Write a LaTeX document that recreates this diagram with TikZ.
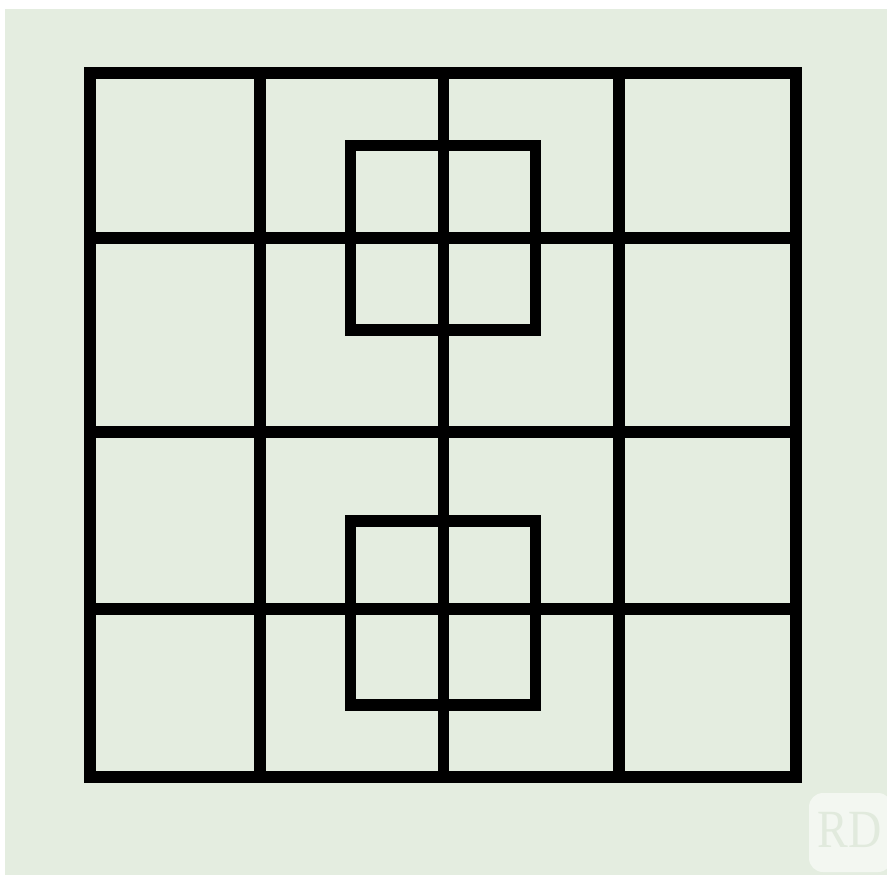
\documentclass[tikz,border=0pt]{standalone}
\usepackage{fontspec}
\setmainfont{Liberation Serif}
\definecolor{paper}{HTML}{E4EDE0}
\definecolor{badge}{HTML}{F3F7F1}
\definecolor{badgetext}{HTML}{E1EADD}
\tikzset{
  gridline/.style={line width=11.5pt,black,line cap=butt},
  framebox/.style={line width=11.5pt,black,line join=miter}
}
\begin{document}
\begin{tikzpicture}[x=1pt,y=-1pt]
\useasboundingbox (0,0) rectangle (887,875);
\fill[white] (0,0) rectangle (887,875);
\fill[paper] (5,9) rectangle (887,875);
% watermark
\fill[badge,rounded corners=14pt] (809,793) rectangle (892,872);
\node[text=badgetext,font=\fontsize{48pt}{48pt}\selectfont,inner sep=0pt,yscale=1.12,xscale=0.96] (rd) at (849.5,830) {RD};
% grid
\foreach \gx in {260,443.4,619} \draw[gridline] (\gx,73) -- (\gx,777);
\foreach \gy in {238,432,609} \draw[gridline] (90,\gy) -- (796,\gy);
\draw[framebox] (90,73) rectangle (796,777);
\draw[framebox] (350.5,145.5) rectangle (535.5,330);
\draw[framebox] (350.5,521) rectangle (535.5,705);
\end{tikzpicture}
\end{document}
